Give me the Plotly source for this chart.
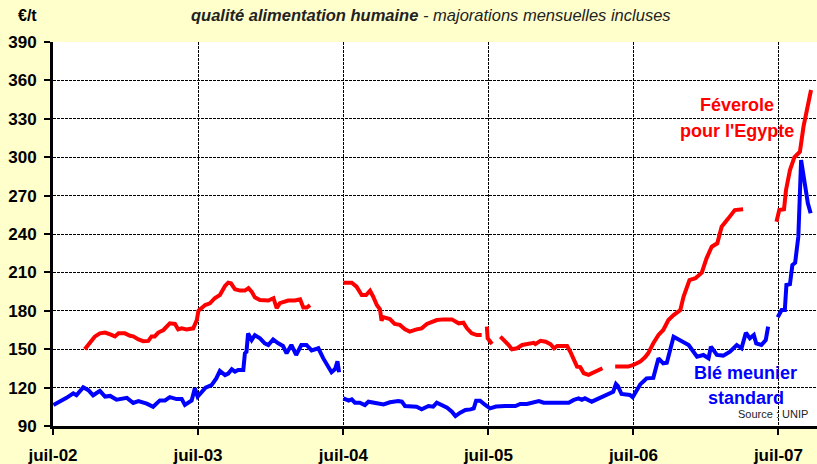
import plotly.graph_objects as go

# ---------------- data ----------------
ble_dates = [
    "2002-07-02", "2002-07-19", "2002-08-04", "2002-08-21", "2002-08-29", "2002-09-15",
    "2002-09-28", "2002-10-10", "2002-10-27", "2002-11-09", "2002-11-22", "2002-12-08",
    "2003-01-03", "2003-01-19", "2003-02-01", "2003-02-22", "2003-03-10", "2003-03-27",
    "2003-04-09", "2003-04-21", "2003-05-08", "2003-05-21", "2003-05-29", "2003-06-15",
    "2003-06-23", "2003-06-30", "2003-07-10", "2003-07-20", "2003-08-04", "2003-08-16",
    "2003-08-25", "2003-09-07", "2003-09-15", "2003-09-24", "2003-10-02", "2003-10-10",
    "2003-10-23", "2003-10-27", "2003-10-31", "2003-11-04", "2003-11-13", "2003-11-21",
    "2003-12-04", "2003-12-16", "2003-12-25", "2004-01-06", "2004-01-19", "2004-01-31",
    "2004-02-09", "2004-02-21", "2004-03-04", "2004-03-17", "2004-03-30", "2004-04-12",
    "2004-04-29", "2004-05-11", "2004-06-01", "2004-06-10", "2004-06-16", "2004-06-20",
    "2004-06-25",
    "2004-07-01", "2004-07-14", "2004-07-22", "2004-07-30", "2004-08-11", "2004-08-24",
    "2004-09-02", "2004-09-23", "2004-10-10", "2004-10-26", "2004-11-16", "2004-11-25",
    "2004-12-03", "2005-01-01", "2005-01-14", "2005-01-31", "2005-02-12", "2005-02-21",
    "2005-03-06", "2005-03-19", "2005-03-31", "2005-04-09", "2005-04-21", "2005-05-04",
    "2005-05-17", "2005-05-25", "2005-05-31", "2005-06-10", "2005-06-23", "2005-07-05",
    "2005-07-20", "2005-07-31", "2005-08-12", "2005-09-07", "2005-09-19", "2005-10-06",
    "2005-10-19", "2005-11-05", "2005-11-17", "2005-12-08", "2006-01-03", "2006-01-19",
    "2006-02-01", "2006-02-13", "2006-02-21", "2006-03-01", "2006-03-18", "2006-04-04",
    "2006-04-16", "2006-04-28", "2006-05-11", "2006-05-18", "2006-05-23", "2006-06-01",
    "2006-06-13", "2006-06-22", "2006-06-29", "2006-07-09", "2006-07-18", "2006-07-28",
    "2006-08-03", "2006-08-20", "2006-09-02", "2006-09-14", "2006-09-23", "2006-10-10",
    "2006-10-27", "2006-11-17", "2006-12-08", "2006-12-24", "2007-01-06", "2007-01-12",
    "2007-01-27", "2007-02-12", "2007-03-01", "2007-03-18", "2007-03-30", "2007-04-10",
    "2007-04-20", "2007-04-30", "2007-05-06", "2007-05-19", "2007-05-30", "2007-06-05",
    "2007-06-17",
    "2007-06-29", "2007-07-09", "2007-07-17", "2007-07-21", "2007-07-30", "2007-08-05",
    "2007-08-12", "2007-08-20", "2007-08-27", "2007-09-04", "2007-09-13", "2007-09-20",
]
ble_values = [
    106.4, 109, 112, 115.5, 114, 120.2,
    118, 114, 117.5, 113, 113.5, 110.5,
    112, 108, 109.5, 107.5, 105, 110,
    110, 112.5, 111, 111, 106.5, 110,
    119.5, 113, 117, 120, 122, 127.2,
    133, 129.8, 131, 134.3, 132.5, 133.8,
    133.8, 146.8, 148, 162.4, 157.2, 161,
    158.5, 154.6, 153.3, 157.6, 154.6, 152.5,
    146.8, 153.3, 145.5, 153.3, 153.3, 149,
    150.7, 143, 132, 134.5, 140.5, 132,
    None,
    111.6, 109.8, 110.8, 108.2, 108.2, 106.4,
    109, 108.2, 106.9, 108.5, 109.5, 109,
    105.6, 105.1, 103, 105.6, 105.1, 108.2,
    106.4, 104.3, 101.2, 97.8, 100.4, 102.5,
    103, 103.8, 109.8, 109.8, 106.4, 103.8,
    105.2, 105.6, 105.6, 105.6, 107.2, 107.2,
    108.2, 109.5, 108.2, 108.2, 108.2, 108.2,
    110.4, 111.6, 110.4, 111.6, 109, 111.6,
    113.5, 115, 116.8, 122.8, 121.2, 115,
    114.2, 114.2, 112.5, 118.2, 122.5, 125.4,
    127.2, 127.6, 142.9, 139, 139.5, 159.8,
    157.2, 153.3, 144.2, 145.5, 142.9, 152,
    145.5, 145, 148.1, 153.3, 150.7, 162.9,
    158.5, 161.1, 154.6, 153.3, 157.2, 167.6,
    None,
    174.9, 180.6, 180.6, 200.2, 200.8, 215.8,
    217.6, 237.9, 297.8, 279.6, 264, 256.2,
]

feverole_dates = [
    "2002-09-19", "2002-10-02", "2002-10-14", "2002-10-27", "2002-11-09", "2002-11-22",
    "2002-12-04", "2002-12-13", "2002-12-29", "2003-01-11", "2003-01-19", "2003-02-01",
    "2003-02-13", "2003-02-26", "2003-03-06", "2003-03-14", "2003-03-23", "2003-04-05",
    "2003-04-21", "2003-05-04", "2003-05-12", "2003-05-21", "2003-06-02", "2003-06-19",
    "2003-06-28", "2003-07-02", "2003-07-19", "2003-07-31", "2003-08-12", "2003-08-25",
    "2003-09-07", "2003-09-15", "2003-09-22", "2003-10-02", "2003-10-15", "2003-10-27",
    "2003-11-05", "2003-11-13", "2003-11-21", "2003-12-04", "2003-12-25", "2004-01-07",
    "2004-01-15", "2004-01-23", "2004-02-01", "2004-02-13", "2004-03-01", "2004-03-14",
    "2004-03-22", "2004-03-31", "2004-04-08",
    "2004-05-20",
    "2004-07-01", "2004-07-22", "2004-08-03", "2004-08-16", "2004-08-27", "2004-09-06",
    "2004-09-14", "2004-09-23", "2004-10-01", "2004-10-05", "2004-10-09", "2004-10-26",
    "2004-11-07", "2004-11-20", "2004-12-03", "2004-12-15", "2005-01-01", "2005-01-14",
    "2005-01-27", "2005-02-08", "2005-02-21", "2005-03-10", "2005-03-31", "2005-04-17",
    "2005-04-29", "2005-05-08", "2005-05-20", "2005-06-02", "2005-06-14",
    "2005-06-20",
    "2005-06-27", "2005-06-29", "2005-07-10",
    "2005-07-20",
    "2005-07-31", "2005-08-12", "2005-08-21", "2005-08-29", "2005-09-11", "2005-09-24",
    "2005-10-10", "2005-10-23", "2005-10-27", "2005-11-09", "2005-11-22", "2005-12-04",
    "2005-12-13", "2005-12-21", "2006-01-03", "2006-01-15", "2006-01-23", "2006-02-01",
    "2006-02-09", "2006-02-17", "2006-02-26", "2006-03-10", "2006-03-23", "2006-04-04",
    "2006-04-14",
    "2006-04-30",
    "2006-05-16", "2006-06-01", "2006-06-18", "2006-07-01", "2006-07-18", "2006-07-30",
    "2006-08-07", "2006-08-20", "2006-09-02", "2006-09-14", "2006-09-27", "2006-10-10",
    "2006-10-27", "2006-11-04", "2006-11-13", "2006-11-19", "2006-12-04", "2006-12-20",
    "2007-01-01", "2007-01-14", "2007-01-28", "2007-02-08", "2007-02-25", "2007-03-13",
    "2007-04-03",
    "2007-05-15",
    "2007-06-26", "2007-07-03", "2007-07-15", "2007-07-20", "2007-07-30", "2007-08-10",
    "2007-08-24", "2007-09-02", "2007-09-21",
]
feverole_values = [
    150, 154.6, 159.8, 162.4, 163, 161.5,
    160, 162.4, 162.4, 160.5, 160, 157.6,
    156.3, 156.5, 160, 160, 163, 165,
    170.2, 169.7, 165.5, 166.3, 165.5, 166.3,
    172.8, 180, 184.5, 185.8, 189.8, 192.3,
    199.4, 202, 201.5, 196.8, 195.8, 195.8,
    197.7, 195, 190.5, 188.5, 188, 189.8,
    182, 186, 187, 188, 188, 189,
    182.6, 182.6, 184.5,
    None,
    202, 202, 198.9, 192.3, 192.3, 195.7,
    191, 184.5, 181.2, 172.3, 175, 173.5,
    169.7, 169, 165.5, 163.7, 165.5, 166.3,
    169.7, 171.5, 172.8, 173.3, 173.3, 170.2,
    170.7, 166.3, 162.4, 161, 161,
    None,
    167.6, 158.5, 154,
    None,
    159.8, 156.6, 153.3, 150, 150.7, 153.3,
    154.6, 155, 154, 156.6, 155.8, 154,
    150.7, 152.5, 152.5, 152.5, 148, 141.6,
    136.4, 136, 131.2, 130, 131.8, 133.3,
    135.1,
    None,
    136.4, 136.4, 136.4, 137.7, 140.3, 143.7,
    146.8, 154.6, 161.1, 165, 172.8, 176.7,
    180.6, 191, 198.9, 204, 205.4, 209.8,
    221, 230.1, 232.7, 245.7, 252.2, 258.7,
    259.3,
    None,
    249.6, 258.7, 259.3, 274.4, 290, 299.9,
    304.3, 323.9, 352.5,
]

tick_dates = ["2002-07-01", "2003-07-01", "2004-07-01", "2005-07-01", "2006-07-01", "2007-07-01"]
tick_labels = ["juil-02", "juil-03", "juil-04", "juil-05", "juil-06", "juil-07"]
y_ticks = [90, 120, 150, 180, 210, 240, 270, 300, 330, 360, 390]

FONT = "Arial, Liberation Sans, sans-serif"
RED = "#FF0000"
BLUE = "#0000FF"

fig = go.Figure()
fig.add_trace(go.Scatter(x=feverole_dates, y=feverole_values, mode="lines",
                         line=dict(color=RED, width=4), connectgaps=False,
                         name="Féverole pour l'Egypte"))
fig.add_trace(go.Scatter(x=ble_dates, y=ble_values, mode="lines",
                         line=dict(color=BLUE, width=4), connectgaps=False,
                         name="Blé meunier standard"))

fig.update_layout(
    width=817, height=464,
    paper_bgcolor="#FFFFCC", plot_bgcolor="#FFFFFF",
    margin=dict(l=53, r=0, t=42, b=38, autoexpand=False),
    showlegend=False,
    font=dict(family=FONT, color="#000000"),
    xaxis=dict(
        type="date", range=["2002-07-01", "2007-10-06"],
        tickvals=tick_dates, ticktext=tick_labels,
        tickfont=dict(size=17, weight="bold", color="#000000"),
        ticks="outside", ticklen=6, tickwidth=2, tickcolor="#000000",
        ticklabelstandoff=6, automargin=False,
        showgrid=True, gridcolor="#000000", gridwidth=1, griddash="3px,1px",
        showline=True, linecolor="#000000", linewidth=3,
        zeroline=False, fixedrange=True,
    ),
    yaxis=dict(
        range=[90, 390], tickvals=y_ticks,
        tickfont=dict(size=17, weight="bold", color="#000000"),
        ticks="outside", ticklen=6, tickwidth=2, tickcolor="#000000",
        ticklabelstandoff=4, automargin=False,
        showgrid=True, gridcolor="#000000", gridwidth=1, griddash="3px,1px",
        showline=True, linecolor="#000000", linewidth=3,
        zeroline=False, fixedrange=True,
    ),
)

annotations = [
    dict(text="€/t", x=-0.034, y=1.0703, font=dict(size=16, weight="bold", color="#000000")),
    dict(text="<b><i>qualité alimentation humaine</i></b><i> - majorations mensuelles incluses</i>",
         x=0.495, y=1.0703, font=dict(size=16.5, color="#222222")),
    dict(text="Féverole", x=0.895, y=0.836, font=dict(size=18, weight="bold", color=RED)),
    dict(text="pour l'Egypte", x=0.895, y=0.768, font=dict(size=18, weight="bold", color=RED)),
    dict(text="Blé meunier", x=0.907, y=0.138, font=dict(size=18, weight="bold", color=BLUE)),
    dict(text="standard", x=0.907, y=0.0729, font=dict(size=18, weight="bold", color=BLUE)),
    dict(text="Source : UNIP", x=0.991, y=0.031, xanchor="right",
         font=dict(size=11, color="#222222")),
]
for a in annotations:
    a.setdefault("xanchor", "center")
    fig.add_annotation(xref="paper", yref="paper", yanchor="middle", showarrow=False,
                       font_family=FONT, **a)

fig.write_html("out.html", config={"displayModeBar": False},
               post_script="document.body.style.margin='0';")
